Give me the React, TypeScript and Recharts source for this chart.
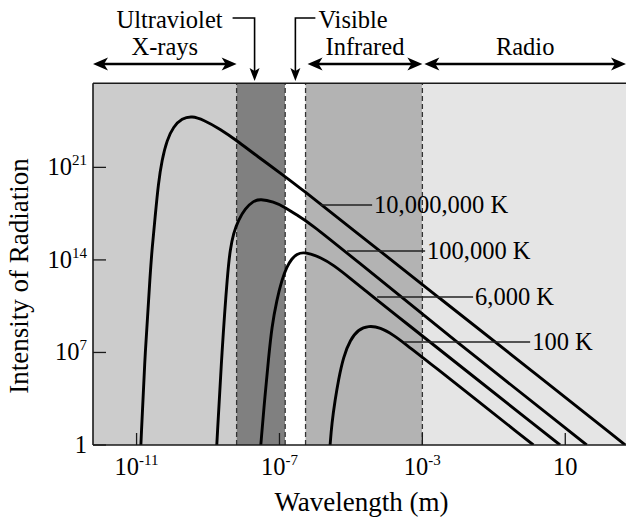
import React from 'react';
import { LineChart, Line, XAxis, YAxis, ReferenceArea, ReferenceLine } from 'recharts';

// Values are log10(wavelength in m) and log10(intensity)
const curve10M: [number, number][] = [
  [-10.88, 0], [-10.76, 7.19], [-10.61, 13.24], [-10.57, 14.75], [-10.48, 17.27], [-10.39, 19.8],
  [-10.29, 21.56], [-10.15, 23.07], [-9.97, 24.08], [-9.73, 24.71], [-9.45, 24.89], [-9.13, 24.6],
  [-8.66, 23.9], [-8.19, 23.02], [-7.64, 21.88], [-6.84, 20.3], [-6.42, 19.44], [-5.02, 16.45],
  [-2.5, 11.07], [0.02, 5.7], [2.68, 0],
];
const curve100k: [number, number][] = [
  [-8.755, 0], [-8.61, 7.19], [-8.447, 13.24], [-8.38, 14.75], [-8.29, 16.01], [-8.15, 17.02],
  [-7.96, 17.9], [-7.73, 18.46], [-7.54, 18.61], [-7.17, 18.4], [-6.84, 17.98], [-6.52, 17.4],
  [-6.14, 16.77], [-5.02, 14.33], [-2.22, 8.18], [1.6, 0],
];
const curve6000: [number, number][] = [
  [-7.523, 0], [-7.4, 3.91], [-7.31, 6.43], [-7.215, 8.95], [-7.075, 10.97], [-6.935, 12.48],
  [-6.795, 13.49], [-6.655, 14.09], [-6.515, 14.45], [-6.33, 14.58], [-6.14, 14.45], [-5.86, 14.2],
  [-5.49, 13.62], [-5.02, 12.61], [-4.555, 11.6], [-4.275, 10.97], [0.855, 0],
];
const curve100: [number, number][] = [
  [-5.583, 0], [-5.535, 1.64], [-5.443, 3.4], [-5.35, 4.92], [-5.21, 6.68], [-5.023, 7.94],
  [-4.79, 8.75], [-4.51, 9.02], [-4.18, 8.9], [-3.81, 8.32], [-3.44, 7.56], [-3.016, 6.68], [0.108, 0],
];
const tempLabels = ['10,000,000 K', '100,000 K', '6,000 K', '100 K'];
const bandNames = ['X-rays', 'Ultraviolet', 'Visible', 'Infrared', 'Radio'];
const bandEdges = [-12.22, -8.2, -6.84, -6.27, -3, 2.7];
const xTicks = [-11, -7, -3, 1];
const yTicks = [0, 7, 14, 21];

// layout
const W = 626;
const H = 519;
const TOP = 83.3;
const LEFT = 93;
const XAXIS_H = 74;
const X_MIN = bandEdges[0];
const X_MAX = bandEdges[bandEdges.length - 1];
const Y_MAX = 27.36;
const PLOT_BOTTOM = H - XAXIS_H;
const PLOT_W = W - LEFT;
const PLOT_H = PLOT_BOTTOM - TOP;
const FONT = '"Liberation Serif", "Times New Roman", serif';
const bandFills = ['#cccccc', '#808080', '#ffffff', '#b3b3b3', '#e5e5e5'];
const INK = '#1a1a1a';

const xPix = (v: number) => LEFT + ((v - X_MIN) / (X_MAX - X_MIN)) * PLOT_W;
const yPix = (v: number) => PLOT_BOTTOM - (v / Y_MAX) * PLOT_H;

// label leaders: [start x, y, end x] in data units
const labelLayout: [number, number, number][] = [
  [-5.863, 18.15, -4.407],
  [-5.107, 14.67, -2.923],
  [-4.267, 11.2, -1.58],
  [-3.511, 7.79, 0.017],
];

const toData = (arr: [number, number][]) => arr.map(([x, y]) => ({ x, y }));
const curves = [curve10M, curve100k, curve6000, curve100].map(toData);

const XTick = (props: any) => {
  const { x, payload } = props;
  const v = payload.value;
  return (
    <g>
      <line x1={x} x2={x} y1={PLOT_BOTTOM} y2={PLOT_BOTTOM - 12} stroke={INK} strokeWidth={1.3} />
      <text x={x} y={PLOT_BOTTOM + 30} textAnchor="middle" fontFamily={FONT} fontSize={24.5} fill="#000">
        <tspan>10</tspan>
        {v !== 1 ? <tspan dy={-10} fontSize={15}>{String(v)}</tspan> : null}
      </text>
    </g>
  );
};

const YTick = (props: any) => {
  const { y, payload } = props;
  const v = payload.value;
  return (
    <g>
      <line x1={LEFT} x2={LEFT + 13} y1={y} y2={y} stroke={INK} strokeWidth={1.3} />
      <text x={LEFT - 6} y={y + 8} textAnchor="end" fontFamily={FONT} fontSize={24.5} fill="#000">
        {v === 0 ? <tspan>1</tspan> : <><tspan>10</tspan><tspan dy={-10} fontSize={15}>{String(v)}</tspan></>}
      </text>
    </g>
  );
};

const headRight = (tx: number, ty: number) => `M${tx},${ty} L${tx - 15},${ty - 6.5} L${tx - 11},${ty} L${tx - 15},${ty + 6.5} Z`;
const headLeft = (tx: number, ty: number) => `M${tx},${ty} L${tx + 15},${ty - 6.5} L${tx + 11},${ty} L${tx + 15},${ty + 6.5} Z`;
const headDown = (tx: number, ty: number) => `M${tx},${ty} L${tx - 5},${ty - 13} L${tx},${ty - 10} L${tx + 5},${ty - 13} Z`;

const Overlay = () => {
  const arrowY = 64;
  const textY1 = 28;
  const textY2 = 55;
  const ranges = [
    { name: bandNames[0], a: xPix(bandEdges[0]), b: xPix(bandEdges[1]) },
    { name: bandNames[3], a: xPix(bandEdges[3]) + 2, b: xPix(bandEdges[4]) },
    { name: bandNames[4], a: xPix(bandEdges[4]) + 2, b: W },
  ];
  const uvX = xPix(bandEdges[1]) + 0.37 * (xPix(bandEdges[2]) - xPix(bandEdges[1]));
  const visX = (xPix(bandEdges[2]) + xPix(bandEdges[3])) / 2;
  const leaderY = 18;
  const tipY = 81;
  return (
    <svg width={W} height={H} style={{ position: 'absolute', left: 0, top: 0, pointerEvents: 'none' }}>
      {ranges.map((r) => (
        <g key={r.name}>
          <line x1={r.a + 8} x2={r.b - 8} y1={arrowY} y2={arrowY} stroke="#000" strokeWidth={2.6} />
          <path d={headLeft(r.a, arrowY)} fill="#000" />
          <path d={headRight(r.b, arrowY)} fill="#000" />
          <text x={(r.a + r.b) / 2} y={textY2} textAnchor="middle" fontFamily={FONT} fontSize={24.5} fill="#000">{r.name}</text>
        </g>
      ))}
      <text x={uvX - 32} y={textY1} textAnchor="end" fontFamily={FONT} fontSize={24.5} fill="#000">{bandNames[1]}</text>
      <polyline points={`${uvX - 22},${leaderY} ${uvX},${leaderY} ${uvX},${tipY - 8}`} fill="none" stroke="#000" strokeWidth={1.6} />
      <path d={headDown(uvX, tipY)} fill="#000" />
      <text x={visX + 23} y={textY1} textAnchor="start" fontFamily={FONT} fontSize={24.5} fill="#000">{bandNames[2]}</text>
      <polyline points={`${visX + 20},${leaderY} ${visX},${leaderY} ${visX},${tipY - 8}`} fill="none" stroke="#000" strokeWidth={1.6} />
      <path d={headDown(visX, tipY)} fill="#000" />
      {labelLayout.map(([x0, y, x1], i) => (
        <g key={tempLabels[i]}>
          <line x1={xPix(x0)} x2={xPix(x1)} y1={yPix(y)} y2={yPix(y)} stroke="#222" strokeWidth={1.6} />
          <text x={xPix(x1) + 2} y={yPix(y) + 8} fontFamily={FONT} fontSize={24.5} fill="#000">{tempLabels[i]}</text>
        </g>
      ))}
      <text x={(LEFT + W) / 2 + 2} y={511} textAnchor="middle" fontFamily={FONT} fontSize={27} fill="#000">Wavelength (m)</text>
      <text x={0} y={0} transform={`translate(28,276) rotate(-90)`} textAnchor="middle" fontFamily={FONT} fontSize={27} fill="#000">Intensity of Radiation</text>
    </svg>
  );
};

export default function App() {
  return (
    <div style={{ position: 'absolute', left: 0, top: 0, width: W, height: H, overflow: 'hidden', background: '#fff' }}>
      <LineChart width={W} height={H} margin={{ top: TOP, right: 0, bottom: 0, left: 0 }}>
        <XAxis
          type="number"
          dataKey="x"
          domain={[X_MIN, X_MAX]}
          ticks={xTicks}
          interval={0}
          allowDataOverflow
          height={XAXIS_H}
          tickLine={false}
          axisLine={{ stroke: INK, strokeWidth: 1.6 }}
          tick={(p: any) => <XTick {...p} />}
        />
        <YAxis
          type="number"
          dataKey="y"
          domain={[0, Y_MAX]}
          ticks={yTicks}
          interval={0}
          allowDataOverflow
          width={LEFT}
          tickLine={false}
          axisLine={{ stroke: INK, strokeWidth: 1.6 }}
          tick={(p: any) => <YTick {...p} />}
        />
        {bandFills.map((f, i) => (
          <ReferenceArea key={bandNames[i]} x1={bandEdges[i]} x2={bandEdges[i + 1]} fill={f} fillOpacity={1} stroke="none" ifOverflow="hidden" />
        ))}
        {bandEdges.slice(1, 5).map((e) => (
          <ReferenceLine key={e} x={e} stroke="#333" strokeWidth={1.3} strokeDasharray="5 3" />
        ))}
        <ReferenceLine y={Y_MAX} stroke={INK} strokeWidth={1.6} />
        {curves.map((d, i) => (
          <Line
            key={tempLabels[i]}
            data={d}
            dataKey="y"
            type="basis"
            stroke="#000"
            strokeWidth={2.9}
            dot={false}
            activeDot={false}
            isAnimationActive={false}
          />
        ))}
      </LineChart>
      <Overlay />
    </div>
  );
}
